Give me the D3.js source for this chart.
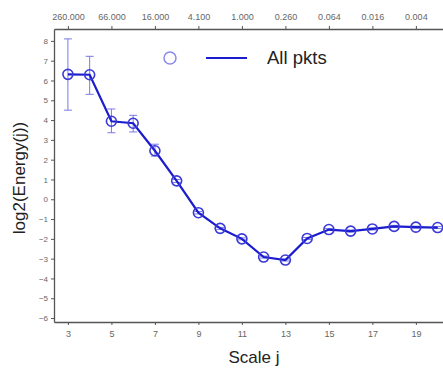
<!DOCTYPE html>
<html>
<head>
<meta charset="utf-8">
<script src="https://cdn.jsdelivr.net/npm/d3@7"></script>
<style>
  body { margin: 0; background: #fff; overflow: hidden; }
  svg { display: block; font-family: "Liberation Sans", Arial, sans-serif; }
</style>
</head>
<body>
<svg id="chart" width="443" height="369"></svg>
<script>
// scale index j and log2 energy
var scales   = [3, 4, 5, 6, 7, 8, 9, 10, 11, 12, 13, 14, 15, 16, 17, 18, 19, 20];
var energy   = [6.31, 6.29, 3.94, 3.84, 2.45, 0.93, -0.68, -1.47, -2.0, -2.92, -3.07, -1.98, -1.53, -1.61, -1.5, -1.37, -1.41, -1.43];
var errLow   = [4.5, 5.3, 3.36, 3.4, 2.18, 0.85, -0.74, -1.52, -2.05, -2.97, -3.12, -2.03, -1.58, -1.66, -1.55, -1.42, -1.46, -1.48];
var errHigh  = [8.1, 7.22, 4.56, 4.24, 2.78, 1.0, -0.62, -1.42, -1.95, -2.87, -3.02, -1.93, -1.48, -1.56, -1.45, -1.32, -1.36, -1.38];

var bottomTicks = [3, 5, 7, 9, 11, 13, 15, 17, 19];
var topLabels   = ["260.000", "66.000", "16.000", "4.100", "1.000", "0.260", "0.064", "0.016", "0.004"];
var yTicks      = [8, 7, 6, 5, 4, 3, 2, 1, 0, -1, -2, -3, -4, -5, -6];

var svg = d3.select("#chart");

// "top" is a reserved window property, so plot edges get their own names
var plotLeft = 54, plotRight = 448.5, plotTop = 29, plotBottom = 322;

var x = d3.scaleLinear().domain([2.36, 20.5]).range([plotLeft, plotRight]);
var y = d3.scaleLinear().domain([-6.2, 8.6]).range([plotBottom, plotTop]);

var axisColor = "#555";
var lineBlue  = "#1c1ccf";
var errBlue   = "#7a7ae6";

// ── axes ─────────────────────────────────────────────
function styleAxis(g) {
  g.select(".domain").attr("stroke", axisColor).attr("stroke-width", 1.3);
  g.selectAll(".tick line").attr("stroke", axisColor);
  g.selectAll("text").attr("fill", "#666").style("font-size", "9px");
}

svg.append("g")
  .attr("transform", "translate(0," + plotBottom + ")")
  .call(d3.axisBottom(x).tickValues(bottomTicks).tickSize(3).tickSizeOuter(0).tickPadding(6)
    .tickFormat(d3.format("d")))
  .call(styleAxis);

svg.append("g")
  .attr("transform", "translate(0," + plotTop + ")")
  .call(d3.axisTop(x).tickValues(bottomTicks).tickSize(3).tickSizeOuter(0).tickPadding(6)
    .tickFormat(function(d, i) { return topLabels[i]; }))
  .call(styleAxis);

svg.append("g")
  .attr("transform", "translate(" + plotLeft + ",0)")
  .call(d3.axisLeft(y).tickValues(yTicks).tickSize(3).tickSizeOuter(0).tickPadding(3))
  .call(styleAxis)
  .call(function(g) { g.selectAll("text").style("font-size", "8px"); });

// axis titles
svg.append("text")
  .attr("x", 254).attr("y", 363)
  .attr("text-anchor", "middle")
  .style("font-size", "17px").attr("fill", "#222")
  .text("Scale j");

svg.append("text")
  .attr("transform", "translate(25,178) rotate(-90)")
  .attr("text-anchor", "middle")
  .style("font-size", "17px").attr("fill", "#222")
  .text("log2(Energy(j))");

// ── error bars ───────────────────────────────────────
var eb = svg.append("g").attr("stroke", errBlue).attr("stroke-width", 1).attr("fill", "none");
scales.forEach(function(j, i) {
  var cx = x(j);
  eb.append("line").attr("x1", cx).attr("x2", cx).attr("y1", y(errLow[i])).attr("y2", y(errHigh[i]));
  eb.append("line").attr("x1", cx - 4).attr("x2", cx + 4).attr("y1", y(errLow[i])).attr("y2", y(errLow[i]));
  eb.append("line").attr("x1", cx - 4).attr("x2", cx + 4).attr("y1", y(errHigh[i])).attr("y2", y(errHigh[i]));
});

// ── line + markers ───────────────────────────────────
var line = d3.line()
  .x(function(d, i) { return x(scales[i]); })
  .y(function(d) { return y(d); });

svg.append("path")
  .datum(energy)
  .attr("d", line)
  .attr("fill", "none")
  .attr("stroke", lineBlue)
  .attr("stroke-width", 2.2);

svg.append("g").selectAll("circle")
  .data(energy)
  .enter().append("circle")
  .attr("cx", function(d, i) { return x(scales[i]); })
  .attr("cy", function(d) { return y(d); })
  .attr("r", 5)
  .attr("fill", "none")
  .attr("stroke", "#3a3ad8")
  .attr("stroke-width", 1.6);

// ── legend ───────────────────────────────────────────
svg.append("circle")
  .attr("cx", 170).attr("cy", 58).attr("r", 6)
  .attr("fill", "none").attr("stroke", "#8a8ae8").attr("stroke-width", 1.5);

svg.append("line")
  .attr("x1", 206).attr("x2", 247).attr("y1", 58).attr("y2", 58)
  .attr("stroke", lineBlue).attr("stroke-width", 2.2);

svg.append("text")
  .attr("x", 267).attr("y", 64)
  .style("font-size", "18.5px").attr("fill", "#222")
  .text("All pkts");
</script>
</body>
</html>
